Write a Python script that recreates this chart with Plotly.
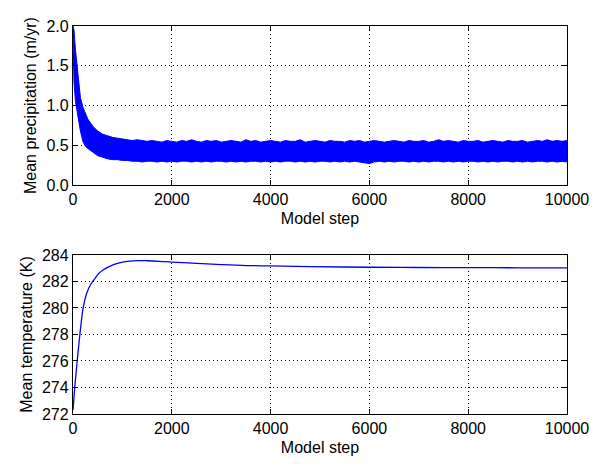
import plotly.graph_objects as go
from plotly.subplots import make_subplots

# Precipitation band (dense noisy line) read as upper / lower envelope
precip_steps = [0, 20, 50, 100, 150, 200, 250, 300, 400, 500, 600, 700, 800, 900] + list(range(1000, 10001, 100))
precip_upper = [2.0, 1.95, 1.7, 1.4, 1.1, 0.98, 0.9, 0.83, 0.74, 0.68, 0.64, 0.62, 0.60, 0.59,
                0.58, 0.57, 0.56, 0.57, 0.56, 0.55, 0.56, 0.55, 0.54, 0.56,
                0.55, 0.54, 0.56, 0.55, 0.57, 0.55, 0.54, 0.56, 0.55, 0.56,
                0.54, 0.55, 0.56, 0.55, 0.54, 0.57, 0.55, 0.56, 0.54, 0.55,
                0.56, 0.55, 0.54, 0.56, 0.55, 0.55, 0.57, 0.54, 0.55, 0.56,
                0.55, 0.54, 0.56, 0.55, 0.55, 0.54, 0.56, 0.55, 0.56, 0.54,
                0.55, 0.56, 0.55, 0.54, 0.55, 0.56, 0.55, 0.54, 0.56, 0.55,
                0.55, 0.56, 0.54, 0.55, 0.57, 0.55, 0.56, 0.55, 0.54, 0.56,
                0.55, 0.55, 0.56, 0.54, 0.55, 0.56, 0.55, 0.54, 0.56, 0.55,
                0.55, 0.56, 0.54, 0.55, 0.56, 0.55, 0.57, 0.55, 0.56, 0.55,
                0.56]
precip_lower = [1.9, 1.3, 1.05, 0.85, 0.68, 0.55, 0.49, 0.46, 0.41, 0.37, 0.35, 0.33, 0.32, 0.32,
                0.31, 0.31, 0.30, 0.30, 0.29, 0.30, 0.30, 0.29, 0.30, 0.29,
                0.30, 0.29, 0.30, 0.30, 0.29, 0.30, 0.29, 0.30, 0.29, 0.30,
                0.30, 0.29, 0.30, 0.29, 0.30, 0.29, 0.30, 0.30, 0.29, 0.30,
                0.29, 0.30, 0.29, 0.30, 0.30, 0.29, 0.30, 0.29, 0.30, 0.29,
                0.30, 0.30, 0.29, 0.30, 0.29, 0.30, 0.29, 0.30, 0.29, 0.28,
                0.27, 0.29, 0.30, 0.29, 0.30, 0.29, 0.30, 0.30, 0.29, 0.30,
                0.29, 0.30, 0.29, 0.30, 0.30, 0.29, 0.30, 0.29, 0.30, 0.29,
                0.30, 0.30, 0.29, 0.30, 0.29, 0.30, 0.29, 0.30, 0.30, 0.29,
                0.30, 0.29, 0.30, 0.29, 0.30, 0.30, 0.29, 0.30, 0.29, 0.30,
                0.29]

temp_steps = [0, 20, 50, 85, 120, 160, 205, 260, 320, 380, 440, 520, 600, 720, 850, 1000, 1150, 1300, 1500,
              1750, 2000, 2500, 3000, 3500, 4000, 4800, 6000, 7000, 8000, 9000, 10000]
temp_values = [272.3, 273.3, 274.6, 276.0, 277.3, 278.7, 279.98, 280.9, 281.5, 281.9, 282.2, 282.6, 282.85,
               283.1, 283.3, 283.45, 283.53, 283.57, 283.56, 283.52, 283.46, 283.36, 283.27, 283.2, 283.17,
               283.12, 283.07, 283.05, 283.04, 283.03, 283.03]

x_ticks = [0, 2000, 4000, 6000, 8000, 10000]
x_tick_labels = ["0", "2000", "4000", "6000", "8000", "10000"]

BLUE = "#0000ff"
FONT = "Arial"
FS = 16

fig = make_subplots(rows=2, cols=1, vertical_spacing=0.18)

fig.add_trace(go.Scatter(x=precip_steps, y=precip_lower, mode="lines",
                         line=dict(color=BLUE, width=1), showlegend=False), row=1, col=1)
fig.add_trace(go.Scatter(x=precip_steps, y=precip_upper, mode="lines", fill="tonexty",
                         fillcolor=BLUE, line=dict(color=BLUE, width=1), showlegend=False), row=1, col=1)
fig.add_trace(go.Scatter(x=temp_steps, y=temp_values, mode="lines", line_shape="spline",
                         line=dict(color=BLUE, width=1.3), showlegend=False), row=2, col=1)

axis_common = dict(showline=True, linecolor="black", linewidth=1.3, mirror="allticks",
                   ticks="inside", ticklen=5, tickcolor="black", showgrid=True,
                   gridcolor="black", gridwidth=0.8, griddash="1px,3px", zeroline=False,
                   tickfont=dict(family=FONT, size=FS, color="black"))

fig.update_xaxes(**axis_common, range=[0, 10000], tickvals=x_ticks, ticktext=x_tick_labels,
                 title=dict(text="Model step", font=dict(family=FONT, size=FS, color="black"), standoff=5))
fig.update_yaxes(**axis_common)
fig.update_yaxes(range=[0, 2.0], tickvals=[0, 0.5, 1.0, 1.5, 2.0], tickformat=".1f",
                 title=dict(text="Mean precipitation (m/yr)", font=dict(family=FONT, size=FS, color="black"), standoff=5),
                 row=1, col=1)
fig.update_yaxes(range=[272, 284], tickvals=[272, 274, 276, 278, 280, 282, 284],
                 title=dict(text="Mean temperature (K)", font=dict(family=FONT, size=FS, color="black"), standoff=5),
                 row=2, col=1)

fig.update_layout(width=606, height=476, margin=dict(l=73, r=39, t=26, b=62),
                  paper_bgcolor="white", plot_bgcolor="white",
                  font=dict(family=FONT, size=FS, color="black"))
fig.update_layout(yaxis=dict(domain=[0.59, 1.0]), yaxis2=dict(domain=[0.0, 0.41]))

fig.write_html("out.html")
